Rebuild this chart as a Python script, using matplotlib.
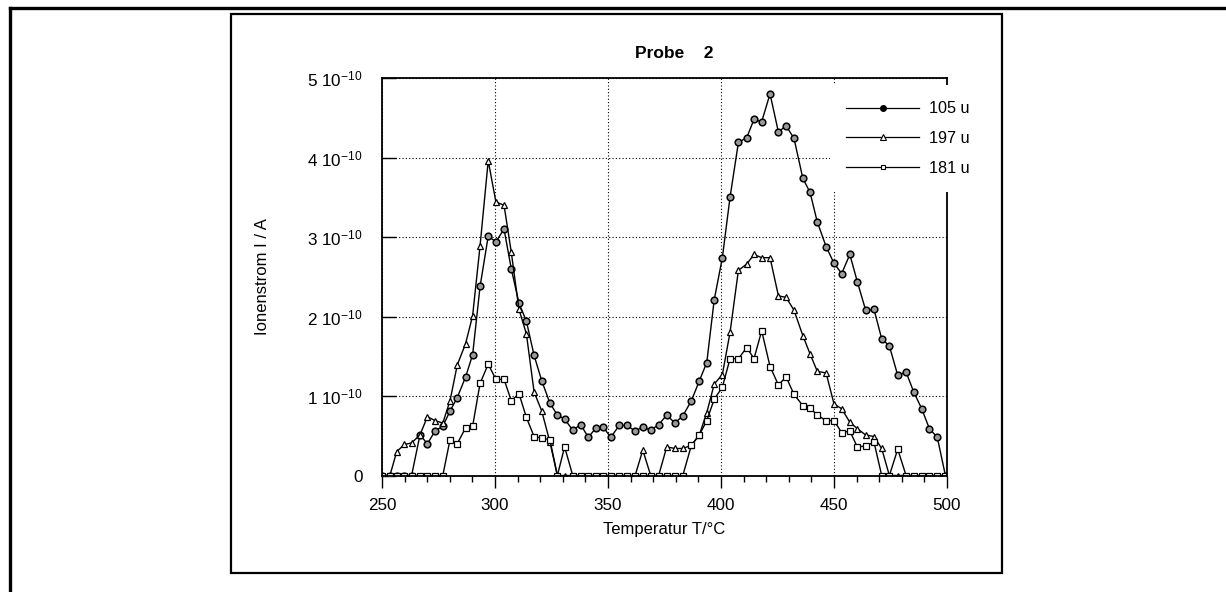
import matplotlib.pyplot as plt
import numpy as np
from matplotlib.lines import Line2D
from matplotlib.patches import Rectangle

plt.rcParams['font.family'] = ['Liberation Sans', 'DejaVu Sans']
plt.rcParams['mathtext.default'] = 'regular'

# temperatures of the measured points (deg C)
temperature = [250.0, 253.5, 256.5, 259.9, 263.1, 266.8, 270.1, 273.5, 276.9, 280.1,
               283.3, 287.0, 290.1, 293.4, 297.0, 300.4, 304.0, 307.2, 310.6, 313.9,
               317.3, 320.7, 324.3, 327.6, 330.8, 334.4, 337.9, 341.3, 344.7, 347.9,
               351.2, 355.0, 358.3, 362.0, 365.4, 368.9, 372.4, 376.0, 379.6, 383.1,
               386.9, 390.4, 393.7, 397.0, 400.6, 404.0, 407.7, 411.4, 414.6, 418.0,
               421.7, 425.4, 428.8, 432.3, 436.2, 439.4, 442.6, 446.5, 450.0, 453.4,
               457.0, 460.3, 464.0, 467.7, 471.1, 474.5, 478.2, 481.9, 485.3, 488.8,
               492.2, 495.7, 499.3]

# ion currents in units of 1e-10 A
ion_105 = [0, 0, 0, 0, 0, 0.51, 0.40, 0.56, 0.62, 0.81,
           0.98, 1.24, 1.52, 2.38, 3.01, 2.94, 3.10, 2.60, 2.17, 1.94,
           1.51, 1.19, 0.91, 0.76, 0.71, 0.57, 0.64, 0.48, 0.60, 0.61,
           0.48, 0.63, 0.63, 0.56, 0.61, 0.57, 0.64, 0.76, 0.66, 0.75,
           0.94, 1.19, 1.42, 2.21, 2.74, 3.50, 4.19, 4.25, 4.48, 4.45,
           4.80, 4.32, 4.40, 4.24, 3.74, 3.56, 3.19, 2.88, 2.67, 2.54,
           2.78, 2.44, 2.08, 2.09, 1.72, 1.63, 1.26, 1.30, 1.05, 0.84,
           0.59, 0.48, 0]
ion_197 = [0, 0, 0.30, 0.39, 0.41, 0.51, 0.74, 0.69, 0.66, 0.94,
           1.39, 1.66, 2.01, 2.89, 3.96, 3.44, 3.40, 2.81, 2.09, 1.78,
           1.05, 0.81, 0.42, 0, 0, 0, 0, 0, 0, 0,
           0, 0, 0, 0, 0.32, 0, 0, 0.36, 0.34, 0.34,
           0.38, 0.51, 0.79, 1.15, 1.27, 1.80, 2.58, 2.66, 2.78, 2.74,
           2.74, 2.26, 2.24, 2.08, 1.76, 1.53, 1.31, 1.29, 0.90, 0.84,
           0.67, 0.59, 0.51, 0.49, 0.34, 0, 0, 0, 0, 0,
           0, 0, 0]
ion_181 = [0, 0, 0, 0, 0, 0, 0, 0, 0, 0.45,
           0.40, 0.60, 0.62, 1.16, 1.40, 1.21, 1.21, 0.94, 1.03, 0.73,
           0.49, 0.47, 0.45, 0, 0.36, 0, 0, 0, 0, 0,
           0, 0, 0, 0, 0, 0, 0, 0, 0, 0,
           0.38, 0.51, 0.69, 0.96, 1.11, 1.47, 1.47, 1.61, 1.47, 1.82,
           1.37, 1.14, 1.24, 1.02, 0.88, 0.85, 0.76, 0.69, 0.69, 0.54,
           0.56, 0.36, 0.37, 0.42, 0, 0, 0.33, 0, 0, 0,
           0, 0, 0]

series_labels = ['105 u', '197 u', '181 u']
x_ticks = [250, 300, 350, 400, 450, 500]
y_ticks = [0, 1e-10, 2e-10, 3e-10, 4e-10, 5e-10]
y_tick_labels = ['0', '1 10$^{-10}$', '2 10$^{-10}$', '3 10$^{-10}$',
                 '4 10$^{-10}$', '5 10$^{-10}$']

W, H = 1226, 592
fig = plt.figure(figsize=(W / 100, H / 100), dpi=100)
ax = fig.add_axes([382 / W, 1 - 475.5 / H, (947 - 382) / W, (475.5 - 78) / H])

# page frame and the box round the figure
fig.add_artist(Line2D([9.5 / W, 9.5 / W], [0, 1 - 7.5 / H], transform=fig.transFigure,
                      color='black', lw=2.4))
fig.add_artist(Line2D([9.5 / W, 1], [1 - 7.5 / H, 1 - 7.5 / H], transform=fig.transFigure,
                      color='black', lw=2.4))
fig.add_artist(Rectangle((230.5 / W, 1 - 573 / H), (1002 - 230.5) / W, (573 - 13.5) / H,
                         transform=fig.transFigure, fill=False, edgecolor='black', lw=1.6))

T = np.array(temperature)
ax.plot(T, np.array(ion_105) * 1e-10, color='black', lw=1.0, marker='o', ms=4.8,
        mfc='0.6', mec='black', mew=1.1)
ax.plot(T, np.array(ion_197) * 1e-10, color='black', lw=1.0, marker='^', ms=4.6,
        mfc='white', mec='black', mew=0.9)
ax.plot(T, np.array(ion_181) * 1e-10, color='black', lw=1.0, marker='s', ms=4.2,
        mfc='white', mec='black', mew=0.9)

ax.set_xlim(250, 500)
ax.set_ylim(0, 5e-10)
ax.set_xticks(x_ticks)
ax.set_xticks(np.arange(250, 501, 10), minor=True)
ax.set_yticks(y_ticks)
ax.set_yticklabels(y_tick_labels)
ax.tick_params(axis='x', which='major', direction='out', length=8.5, width=1,
               labelsize=12.3, pad=8)
ax.tick_params(axis='x', which='minor', direction='out', length=4.5, width=1)
ax.tick_params(axis='y', direction='in', length=10, width=1, labelsize=12.3, pad=14)
ax.grid(True, which='major', linestyle=(0, (1, 2)), color='black', lw=0.8)
for s in ax.spines.values():
    s.set_linewidth(1.3)

fig.text(674.5 / W, 1 - 53 / H, 'Probe    2', fontweight='bold', fontsize=12.5,
         ha='center', va='center')
ax.set_xlabel('Temperatur T/°C', fontsize=12, labelpad=6)
ax.set_ylabel('Ionenstrom I / A', fontsize=12, labelpad=27)

# legend with small markers, as in the original
handles = [
    Line2D([], [], color='black', lw=0.9, marker='o', ms=4, mfc='black', mec='black'),
    Line2D([], [], color='black', lw=0.9, marker='^', ms=3.8, mfc='white', mec='black',
           mew=0.8),
    Line2D([], [], color='black', lw=0.9, marker='s', ms=3.5, mfc='white', mec='black',
           mew=0.8),
]
ax.legend(handles, series_labels, loc='upper left', bbox_to_anchor=(830 / W, 1 - 85 / H),
          bbox_transform=fig.transFigure, frameon=True, facecolor='white',
          edgecolor='none', framealpha=1, fancybox=False, borderpad=1.0,
          borderaxespad=0, handlelength=4.5, handletextpad=0.6, labelspacing=0.9,
          fontsize=11.7)

fig.savefig('out.png', dpi=100)
